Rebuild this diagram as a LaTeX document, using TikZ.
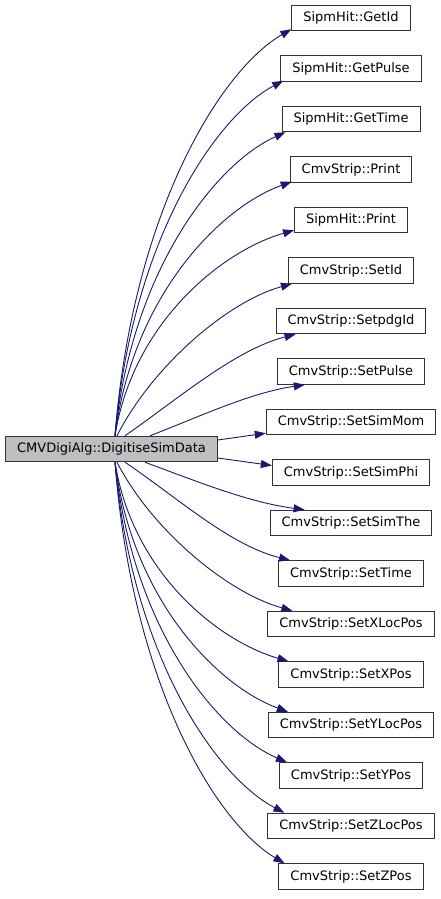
\documentclass[tikz,border=0pt]{standalone}
\usepackage{fontspec}
\setmainfont{DejaVu Sans}
\usetikzlibrary{arrows.meta,positioning}
\definecolor{callblue}{RGB}{25,25,112}
\definecolor{callergray}{RGB}{191,191,191}

\begin{document}
\begin{tikzpicture}[
    x=1pt, y=-1pt,
    fn/.style={draw=black!80, line width=1pt, minimum height=25.5pt, inner xsep=11.5pt, inner ysep=2pt, fill=white, font=\fontsize{13}{15.6}\selectfont},
    caller/.style={fn, fill=callergray},
    call/.style={->, draw=callblue, line width=0.9pt},
    >={Triangle[length=11pt,width=8pt]}
]
\useasboundingbox (0,0) rectangle (441,899);

\node[caller] (digitise) at (111.5,449) {CMVDigiAlg::DigitiseSimData};

\node[fn] (getid) at (351,18) {SipmHit::GetId};
\node[fn, below=24pt of getid] (getpulse) {SipmHit::GetPulse};
\node[fn, below=24pt of getpulse] (gettime) {SipmHit::GetTime};
\node[fn, below=24pt of gettime] (stripprint) {CmvStrip::Print};
\node[fn, below=24pt of stripprint] (hitprint) {SipmHit::Print};
\node[fn, below=24pt of hitprint] (setid) {CmvStrip::SetId};
\node[fn, below=24pt of setid] (setpdgid) {CmvStrip::SetpdgId};
\node[fn, below=24pt of setpdgid] (setpulse) {CmvStrip::SetPulse};
\node[fn, below=24pt of setpulse] (setsimmom) {CmvStrip::SetSimMom};
\node[fn, below=24pt of setsimmom] (setsimphi) {CmvStrip::SetSimPhi};
\node[fn, below=24pt of setsimphi] (setsimthe) {CmvStrip::SetSimThe};
\node[fn, below=24pt of setsimthe] (settime) {CmvStrip::SetTime};
\node[fn, below=24pt of settime] (setxlocpos) {CmvStrip::SetXLocPos};
\node[fn, below=24pt of setxlocpos] (setxpos) {CmvStrip::SetXPos};
\node[fn, below=24pt of setxpos] (setylocpos) {CmvStrip::SetYLocPos};
\node[fn, below=24pt of setylocpos] (setypos) {CmvStrip::SetYPos};
\node[fn, below=24pt of setypos] (setzlocpos) {CmvStrip::SetZLocPos};
\node[fn, below=24pt of setzlocpos] (setzpos) {CmvStrip::SetZPos};

% calls going up
\draw[call] ([xshift=3.5pt]digitise.north) .. controls +(17.7,-223.9) and +(-70.8,40.7) .. ([yshift=2pt]getid.south west);
\draw[call] ([xshift=3.5pt]digitise.north) .. controls +(16.9,-195.8) and +(-67.6,35.6) .. ([xshift=3pt,yshift=1pt]getpulse.south west);
\draw[call] ([xshift=3.5pt]digitise.north) .. controls +(17.1,-167.8) and +(-68.4,30.5) .. ([xshift=4pt]gettime.south west);
\draw[call] ([xshift=3.5pt]digitise.north) .. controls +(17.8,-140.3) and +(-71.2,25.5) .. ([xshift=2pt,yshift=1pt]stripprint.south west);
\draw[call] ([xshift=3.5pt]digitise.north) .. controls +(18,-113.3) and +(-72,20.6) .. ([yshift=3pt]hitprint.south west);
\draw[call] ([xshift=5.5pt]digitise.north) .. controls +(35,-69) and +(-65,18) .. ([xshift=4pt]setid.south west);
\draw[call] ([xshift=13.5pt]digitise.north) .. controls +(52,-36) and +(-60.5,15.3) .. ([xshift=20pt]setpdgid.south west);
\draw[call] ([xshift=38.5pt]digitise.north) .. controls +(47,-18) and +(-55,8) .. ([xshift=28pt]setpulse.south west);

% calls to the side
\draw[call] ([yshift=9pt]digitise.east) -- ([yshift=2pt]setsimmom.south west);
\draw[call] ([yshift=-9pt]digitise.east) -- ([yshift=7pt]setsimphi.west);

% calls going down
\draw[call] ([xshift=33.5pt]digitise.south) .. controls +(49,18) and +(-57,-7.5) .. ([xshift=35pt]setsimthe.north west);
\draw[call] ([xshift=13.5pt]digitise.south) .. controls +(52,35) and +(-60.5,-15) .. ([xshift=12pt]settime.north west);
\draw[call] ([xshift=5.5pt]digitise.south) .. controls +(35,68) and +(-65,-18) .. ([xshift=25pt]setxlocpos.north west);
\draw[call] ([xshift=3.5pt]digitise.south) .. controls +(17.5,110.6) and +(-70,-20.1) .. ([xshift=10pt]setxpos.north west);
\draw[call] ([xshift=3.5pt]digitise.south) .. controls +(17.3,139) and +(-69.2,-25.3) .. ([xshift=20pt]setylocpos.north west);
\draw[call] ([xshift=3.5pt]digitise.south) .. controls +(17.5,166.7) and +(-70,-30.3) .. ([xshift=8pt]setypos.north west);
\draw[call] ([xshift=3.5pt]digitise.south) .. controls +(17,195) and +(-68,-35.5) .. ([xshift=17pt]setzlocpos.north west);
\draw[call] ([xshift=3.5pt]digitise.south) .. controls +(17.1,222.8) and +(-68.4,-40.5) .. ([xshift=6pt]setzpos.north west);
\end{tikzpicture}
\end{document}
